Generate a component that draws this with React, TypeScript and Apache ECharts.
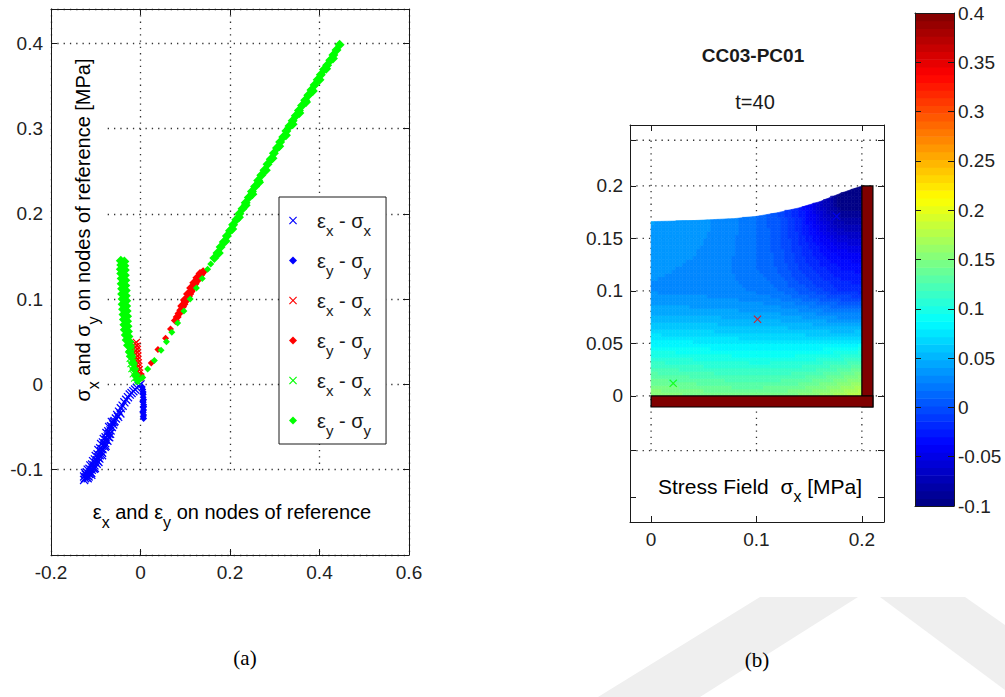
import React, { useEffect, useRef } from "react";
import * as echarts from "echarts";

const FONT = '"Liberation Sans", Arial, Helvetica, sans-serif';
const SERIF = '"Liberation Serif", "Times New Roman", serif';
const INK = "#1a1a1a";

// ---------------- (a) strain / stress scatter ----------------
const blueEpsXSigX: number[][] = [
  [0, 0], [-0.004, -0.002], [-0.008, -0.004], [-0.012, -0.006], [-0.016, -0.008], [-0.02, -0.01],
  [-0.024, -0.012], [-0.028, -0.015], [-0.032, -0.018], [-0.036, -0.021], [-0.04, -0.025],
  [-0.044, -0.028], [-0.048, -0.032], [-0.052, -0.036], [-0.055, -0.04], [-0.058, -0.043],
  [-0.061, -0.047], [-0.064, -0.05], [-0.067, -0.054], [-0.07, -0.058], [-0.073, -0.061],
  [-0.076, -0.065], [-0.079, -0.069], [-0.082, -0.072], [-0.085, -0.076], [-0.088, -0.079],
  [-0.091, -0.083], [-0.094, -0.086], [-0.097, -0.089], [-0.1, -0.092], [-0.103, -0.095],
  [-0.106, -0.098], [-0.109, -0.1], [-0.112, -0.103], [-0.115, -0.105], [-0.118, -0.107],
  [-0.121, -0.109], [-0.124, -0.11],
  [-0.045, -0.034], [-0.05, -0.038], [-0.06, -0.044], [-0.066, -0.049], [-0.072, -0.055],
  [-0.078, -0.062], [-0.084, -0.068], [-0.09, -0.075], [-0.096, -0.082], [-0.102, -0.088],
  [-0.108, -0.094], [-0.114, -0.099], [-0.12, -0.103], [-0.068, -0.058], [-0.074, -0.066],
  [-0.08, -0.073], [-0.086, -0.08], [-0.092, -0.087], [-0.098, -0.093], [-0.104, -0.099],
  [-0.11, -0.104], [-0.116, -0.108], [-0.122, -0.106], [-0.126, -0.108],
  [-0.064, -0.044], [-0.07, -0.05], [-0.076, -0.057], [-0.082, -0.064], [-0.088, -0.07],
  [-0.094, -0.077], [-0.1, -0.084], [-0.106, -0.09], [-0.112, -0.095], [-0.118, -0.1],
  [-0.124, -0.104], [-0.07, -0.062], [-0.078, -0.072], [-0.086, -0.083], [-0.094, -0.091],
  [-0.102, -0.098], [-0.11, -0.106], [-0.118, -0.11], [-0.126, -0.112],
];
const blueEpsYSigY: number[][] = [
  [0.004, -0.003], [0.005, -0.006], [0.006, -0.009], [0.006, -0.012], [0.006, -0.015],
  [0.007, -0.018], [0.006, -0.021], [0.007, -0.024], [0.006, -0.027], [0.007, -0.03],
  [0.006, -0.033], [0.007, -0.036], [0.006, -0.038], [0.007, -0.04], [0.005, -0.011],
  [0.005, -0.02], [0.007, -0.026], [0.005, -0.032],
];
const redEpsXSigX: number[][] = [
  [-0.012, 0.048], [-0.009, 0.049], [-0.012, 0.044], [-0.008, 0.045], [-0.011, 0.04],
  [-0.007, 0.041], [-0.011, 0.036], [-0.007, 0.037], [-0.01, 0.032], [-0.006, 0.033],
  [-0.01, 0.028], [-0.006, 0.029], [-0.009, 0.024], [-0.005, 0.025], [-0.008, 0.02],
  [-0.004, 0.021], [-0.007, 0.016], [-0.003, 0.017], [-0.005, 0.012], [-0.002, 0.013],
  [-0.003, 0.008], [0, 0.009],
];
const redEpsYSigYSparse: number[][] = [
  [0.002, 0.011], [0.024, 0.025], [0.039, 0.041], [0.056, 0.054], [0.067, 0.065],
];
const redEpsYSigYDense: number[][] = [
  [0.078, 0.075], [0.082, 0.079], [0.086, 0.083], [0.09, 0.087], [0.094, 0.091], [0.097, 0.094],
  [0.1, 0.097], [0.104, 0.1], [0.107, 0.103], [0.11, 0.106], [0.113, 0.109], [0.116, 0.112],
  [0.119, 0.115], [0.122, 0.118], [0.125, 0.121], [0.128, 0.123], [0.131, 0.126],
  [0.134, 0.128], [0.137, 0.13], [0.14, 0.132], [0.092, 0.092], [0.098, 0.099],
  [0.105, 0.106], [0.112, 0.113], [0.119, 0.119], [0.126, 0.125], [0.133, 0.13],
];
const greenEpsXSigX: number[][] = [
  [-0.026, 0.042], [-0.02, 0.044], [-0.025, 0.036], [-0.019, 0.038], [-0.024, 0.03],
  [-0.018, 0.032], [-0.022, 0.024], [-0.016, 0.026], [-0.02, 0.018], [-0.014, 0.02],
  [-0.017, 0.012], [-0.012, 0.014], [-0.014, 0.007], [-0.009, 0.008], [-0.007, 0.003],
  [-0.022, 0.047],
];
// green eps_y - sigma_y: near-vertical branch and the dense part of the rising branch
const greenEpsYSigYDense: number[][] = [
  [-0.044, 0.145], [-0.036, 0.144], [-0.043, 0.14], [-0.036, 0.139], [-0.044, 0.135],
  [-0.035, 0.134], [-0.043, 0.13], [-0.035, 0.128], [-0.042, 0.124], [-0.034, 0.122],
  [-0.042, 0.118], [-0.034, 0.116], [-0.041, 0.112], [-0.033, 0.11], [-0.041, 0.106],
  [-0.033, 0.104], [-0.04, 0.1], [-0.032, 0.098], [-0.04, 0.094], [-0.032, 0.092],
  [-0.039, 0.088], [-0.031, 0.086], [-0.038, 0.082], [-0.03, 0.08], [-0.037, 0.076],
  [-0.03, 0.074], [-0.036, 0.07], [-0.029, 0.068], [-0.035, 0.064], [-0.028, 0.062],
  [-0.033, 0.058], [-0.027, 0.056], [-0.031, 0.052], [-0.025, 0.05], [-0.028, 0.046],
  [-0.023, 0.044], [-0.024, 0.038], [-0.02, 0.032], [-0.017, 0.025], [-0.014, 0.018],
  [-0.01, 0.011], [-0.006, 0.005],
  [0.165, 0.148], [0.172, 0.154], [0.179, 0.161], [0.186, 0.167], [0.193, 0.174], [0.2, 0.18],
  [0.207, 0.187], [0.214, 0.193], [0.221, 0.2], [0.228, 0.206], [0.235, 0.213], [0.242, 0.219],
  [0.249, 0.226], [0.256, 0.232], [0.263, 0.239], [0.27, 0.245], [0.277, 0.251], [0.284, 0.258],
  [0.291, 0.264], [0.298, 0.271], [0.305, 0.277], [0.312, 0.284], [0.319, 0.29], [0.326, 0.297],
  [0.333, 0.303], [0.34, 0.309], [0.347, 0.315], [0.354, 0.321], [0.361, 0.327], [0.368, 0.333],
  [0.375, 0.339], [0.382, 0.345], [0.389, 0.351], [0.396, 0.357], [0.403, 0.363], [0.41, 0.369],
  [0.417, 0.374], [0.424, 0.38], [0.431, 0.386], [0.438, 0.392], [0.445, 0.398],
  [0.175, 0.154], [0.19, 0.168], [0.205, 0.182], [0.22, 0.196], [0.235, 0.21], [0.25, 0.223],
  [0.265, 0.237], [0.28, 0.251], [0.295, 0.265], [0.31, 0.279], [0.325, 0.292], [0.34, 0.305],
  [0.355, 0.318], [0.37, 0.331], [0.385, 0.344], [0.4, 0.357], [0.415, 0.37], [0.43, 0.382],
];
// green eps_y - sigma_y: sparse start of the rising branch
const greenEpsYSigYSparse: number[][] = [
  [0.005, 0.008], [0.016, 0.018], [0.031, 0.028], [0.046, 0.04], [0.058, 0.05], [0.07, 0.061],
  [0.083, 0.072], [0.097, 0.086], [0.111, 0.1], [0.125, 0.113], [0.138, 0.124], [0.15, 0.135],
  [0.157, 0.141],
];

const leftXRange = [-0.2, 0.6];
const leftXStep = 0.2;
const leftYRange = [-0.2, 0.44];
const leftYStep = 0.1;
const leftYLabels = [-0.1, 0, 0.1, 0.2, 0.3, 0.4];

// ---------------- (b) stress field ----------------
const fieldX = [0, 0.02, 0.04, 0.06, 0.08, 0.1, 0.12, 0.14, 0.16, 0.18, 0.2];
const fieldY = [0, 0.02, 0.04, 0.06, 0.08, 0.1, 0.12, 0.14, 0.16, 0.18, 0.2];
// sigma_x [MPa], one row per fieldY value, one column per fieldX value
const fieldValues: number[][] = [
  [0.16, 0.155, 0.15, 0.147, 0.145, 0.145, 0.147, 0.152, 0.16, 0.172, 0.185],
  [0.13, 0.127, 0.124, 0.121, 0.119, 0.118, 0.119, 0.122, 0.128, 0.138, 0.15],
  [0.1, 0.098, 0.096, 0.094, 0.093, 0.092, 0.092, 0.093, 0.096, 0.1, 0.108],
  [0.07, 0.069, 0.068, 0.066, 0.065, 0.064, 0.063, 0.062, 0.06, 0.058, 0.06],
  [0.046, 0.045, 0.044, 0.043, 0.042, 0.041, 0.039, 0.035, 0.029, 0.023, 0.022],
  [0.032, 0.031, 0.03, 0.029, 0.027, 0.024, 0.018, 0.008, -0.004, -0.014, -0.018],
  [0.034, 0.033, 0.031, 0.028, 0.024, 0.018, 0.009, -0.005, -0.018, -0.028, -0.032],
  [0.037, 0.036, 0.034, 0.03, 0.025, 0.017, 0.006, -0.012, -0.03, -0.045, -0.05],
  [0.04, 0.039, 0.036, 0.032, 0.026, 0.017, 0.004, -0.017, -0.045, -0.07, -0.075],
  [0.043, 0.041, 0.038, 0.033, 0.027, 0.017, 0.003, -0.022, -0.06, -0.095, -0.095],
  [0.045, 0.043, 0.04, 0.035, 0.028, 0.018, 0.004, -0.022, -0.062, -0.098, -0.1],
];
// upper free edge of the specimen, at each fieldX
const fieldTop = [0.166, 0.1665, 0.167, 0.168, 0.169, 0.171, 0.1745, 0.179, 0.185, 0.193, 0.2];
// supports: [x0, y0, x1, y1]
const supportBars: number[][] = [
  [0.2, -0.0105, 0.2105, 0.2],
  [0, -0.0105, 0.2105, 0],
];
const probeBlue: number[][] = [[0.176, 0.171]];
const probeRed: number[][] = [[0.101, 0.073]];
const probeGreen: number[][] = [[0.021, 0.012]];

const rightXRange = [-0.02, 0.221];
const rightYRange = [-0.12, 0.258];
const rightXTicks = [0, 0.1, 0.2];
const rightYTicks = [-0.096, -0.052, 0, 0.05, 0.1, 0.15, 0.2, 0.2435];
const rightYLabels = [0, 0.05, 0.1, 0.15, 0.2];
const rightYGrid = [-0.052, 0, 0.05, 0.1, 0.15, 0.2, 0.2435];

const cRange = [-0.1, 0.4];
const cStep = 0.05;
const cLevels = 64;

// MATLAB jet, 9 evenly spaced anchors
const JET = [
  [0, 0, 0.5], [0, 0, 1], [0, 0.5, 1], [0, 1, 1], [0.5, 1, 0.5],
  [1, 1, 0], [1, 0.5, 0], [1, 0, 0], [0.5, 0, 0],
];
function jet(v: number): string {
  let t = (v - cRange[0]) / (cRange[1] - cRange[0]);
  t = Math.max(0, Math.min(1, t));
  const q = (Math.min(cLevels - 1, Math.floor(t * cLevels)) + 0.5) / cLevels;
  const s = q * 8;
  const i = Math.min(7, Math.floor(s));
  const f = s - i;
  const a = JET[i], b = JET[i + 1];
  const c = [0, 1, 2].map((k) => Math.round((a[k] + (b[k] - a[k]) * f) * 255));
  return `rgb(${c[0]},${c[1]},${c[2]})`;
}

const XMARK = "path://M1,0L5,4L9,0L10,1L6,5L10,9L9,10L5,6L1,10L0,9L4,5L0,1Z";

const makeRich = (size: number, sub: number, pad: number) => ({
  g: { width: 15 },
  m: { fontFamily: FONT, fontSize: size, lineHeight: 22, color: INK },
  s: { fontFamily: FONT, fontSize: sub, lineHeight: 22, padding: [pad, 0, 0, 0], color: INK },
});
const legendRich = makeRich(20, 15, 20);
const labelRich = makeRich(20, 16, 20);
const labelRichR = makeRich(21, 16, 20);

const legendNames = ["bx", "by", "rx", "ry", "gx", "gy"];
const legendLabels: Record<string, string> = {
  bx: "{g| }{m|ε}{s|x}{m| - σ}{s|x}",
  by: "{g| }{m|ε}{s|y}{m| - σ}{s|y}",
  rx: "{g| }{m|ε}{s|x}{m| - σ}{s|x}",
  ry: "{g| }{m|ε}{s|y}{m| - σ}{s|y}",
  gx: "{g| }{m|ε}{s|x}{m| - σ}{s|x}",
  gy: "{g| }{m|ε}{s|y}{m| - σ}{s|y}",
};

const fmt = (v: number) => String(Math.round(v * 1000) / 1000);

function buildOption() {
  const fieldCells: number[][] = [];
  for (let j = 0; j < fieldY.length - 1; j++)
    for (let i = 0; i < fieldX.length - 1; i++) fieldCells.push([i, j]);

  const gridSegs: number[][] = [];
  rightXTicks.forEach((x) => gridSegs.push([x, rightYGrid[0], x, rightYGrid[rightYGrid.length - 1]]));
  rightYGrid.forEach((y) => gridSegs.push([rightXRange[0], y, rightXRange[1], y]));

  const SUB = 6;
  const renderField = (_p: any, api: any) => {
    const i = api.value(0), j = api.value(1);
    const xa = fieldX[i], xb = fieldX[i + 1], ya = fieldY[j], yb = fieldY[j + 1];
    const v00 = fieldValues[j][i], v10 = fieldValues[j][i + 1];
    const v01 = fieldValues[j + 1][i], v11 = fieldValues[j + 1][i + 1];
    const ta = fieldTop[i], tb = fieldTop[i + 1];
    const children: any[] = [];
    for (let sx = 0; sx < SUB; sx++) {
      const u0 = sx / SUB, u1 = (sx + 1) / SUB;
      const x0 = xa + (xb - xa) * u0, x1 = xa + (xb - xa) * u1;
      const t0 = ta + (tb - ta) * u0, t1 = ta + (tb - ta) * u1;
      for (let sy = 0; sy < SUB; sy++) {
        const w0 = sy / SUB, w1 = (sy + 1) / SUB;
        const y0 = ya + (yb - ya) * w0, y1 = ya + (yb - ya) * w1;
        if (y0 >= Math.max(t0, t1)) continue;
        const uc = (u0 + u1) / 2, wc = (w0 + w1) / 2;
        const v = v00 * (1 - uc) * (1 - wc) + v10 * uc * (1 - wc) + v01 * (1 - uc) * wc + v11 * uc * wc;
        const c = jet(v);
        const pts = [
          api.coord([x0, y0]),
          api.coord([x1, y0]),
          api.coord([x1, Math.max(y0, Math.min(y1, t1))]),
          api.coord([x0, Math.max(y0, Math.min(y1, t0))]),
        ];
        children.push({ type: "polygon", shape: { points: pts }, style: { fill: c, stroke: c, lineWidth: 0.6 }, silent: true });
      }
    }
    return { type: "group", children };
  };

  const renderColorbar = (_p: any, api: any) => {
    const children: any[] = [];
    const span = (cRange[1] - cRange[0]) / cLevels;
    for (let k = 0; k < cLevels; k++) {
      const v0 = cRange[0] + k * span, v1 = v0 + span;
      const p0 = api.coord([0, v1]), p1 = api.coord([1, v0]);
      children.push({
        type: "rect",
        shape: { x: p0[0], y: p0[1], width: p1[0] - p0[0], height: p1[1] - p0[1] + 0.6 },
        style: { fill: jet((v0 + v1) / 2) },
        silent: true,
      });
    }
    return { type: "group", children };
  };

  const axisBase = {
    axisLine: { show: true, onZero: false, lineStyle: { color: INK, width: 1 } },
    axisTick: { show: true, inside: true, length: 6, lineStyle: { color: INK } },
    axisLabel: { show: false },
    splitLine: { show: false },
  };
  const labelStyle = { fontFamily: FONT, fontSize: 19, color: "#222" };
  const dotted = { color: "#333", width: 1.3, type: [1.3, 5] as any };

  const scatter = (name: string, data: number[][], color: string, cross: boolean, size: number) => ({
    type: "scatter",
    name,
    xAxisIndex: 0,
    yAxisIndex: 0,
    data,
    symbol: cross ? XMARK : "diamond",
    symbolSize: size,
    itemStyle: { color, opacity: 1 },
    silent: true,
    z: 2,
  });

  const centered = { align: "center", verticalAlign: "middle", textAlign: "center", textVerticalAlign: "middle" };

  return {
    animation: false,
    backgroundColor: "#fff",
    grid: [
      { left: 51, top: 9, width: 358, height: 546, outerBoundsMode: "none" },
      { left: 630, top: 125, width: 254, height: 397, outerBoundsMode: "none" },
      { left: 915, top: 13, width: 39, height: 493, outerBoundsMode: "none" },
    ],
    xAxis: [
      {
        ...axisBase, gridIndex: 0, type: "value", position: "bottom",
        min: leftXRange[0], max: leftXRange[1], interval: leftXStep,
        axisLabel: { show: true, margin: 8, ...labelStyle, formatter: fmt },
        splitLine: { show: true, lineStyle: dotted },
      },
      { ...axisBase, gridIndex: 0, type: "value", position: "top", min: leftXRange[0], max: leftXRange[1], interval: leftXStep },
      {
        ...axisBase, gridIndex: 1, type: "value", position: "bottom",
        min: rightXRange[0], max: rightXRange[1],
        axisTick: { ...axisBase.axisTick, customValues: rightXTicks },
        axisLabel: { show: true, margin: 8, ...labelStyle, customValues: rightXTicks, formatter: fmt },
      },
      {
        ...axisBase, gridIndex: 1, type: "value", position: "top",
        min: rightXRange[0], max: rightXRange[1],
        axisTick: { ...axisBase.axisTick, customValues: rightXTicks },
      },
      { ...axisBase, gridIndex: 2, type: "value", position: "bottom", min: 0, max: 1, axisTick: { show: false }, z: 10 },
      { ...axisBase, gridIndex: 2, type: "value", position: "top", min: 0, max: 1, axisTick: { show: false }, z: 10 },
    ],
    yAxis: [
      {
        ...axisBase, gridIndex: 0, type: "value", position: "left",
        min: leftYRange[0], max: leftYRange[1], interval: leftYStep,
        axisLabel: {
          show: true, margin: 8, ...labelStyle,
          formatter: (v: number) => (leftYLabels.some((l) => Math.abs(l - v) < 1e-6) ? fmt(v) : ""),
        },
        splitLine: { show: true, lineStyle: dotted },
      },
      { ...axisBase, gridIndex: 0, type: "value", position: "right", min: leftYRange[0], max: leftYRange[1], interval: leftYStep },
      {
        ...axisBase, gridIndex: 1, type: "value", position: "left",
        min: rightYRange[0], max: rightYRange[1],
        axisTick: { ...axisBase.axisTick, customValues: rightYTicks },
        axisLabel: { show: true, margin: 7, ...labelStyle, customValues: rightYLabels, formatter: fmt },
      },
      {
        ...axisBase, gridIndex: 1, type: "value", position: "right",
        min: rightYRange[0], max: rightYRange[1],
        axisTick: { ...axisBase.axisTick, customValues: rightYTicks },
      },
      {
        ...axisBase, gridIndex: 2, type: "value", position: "left",
        min: cRange[0], max: cRange[1], interval: cStep, z: 10,
      },
      {
        ...axisBase, gridIndex: 2, type: "value", position: "right",
        min: cRange[0], max: cRange[1], interval: cStep, z: 10,
        axisLabel: { show: true, margin: 4, ...labelStyle, formatter: fmt },
      },
    ],
    legend: {
      data: legendNames,
      orient: "vertical",
      left: 279,
      top: 197,
      padding: [6, 15, 6, 10],
      itemGap: 5,
      itemWidth: 8,
      itemHeight: 8,
      backgroundColor: "#fff",
      borderColor: INK,
      borderWidth: 1,
      borderRadius: 0,
      selectedMode: false,
      formatter: (name: string) => legendLabels[name],
      textStyle: { fontFamily: FONT, fontSize: 20, color: INK, rich: legendRich },
    },
    series: [
      scatter("bx", blueEpsXSigX, "#0000ff", true, 9),
      scatter("by", blueEpsYSigY, "#0000ff", false, 7),
      scatter("rx", redEpsXSigX, "#ff0000", true, 8),
      scatter("ry", redEpsYSigYSparse, "#ff0000", false, 7),
      scatter("ry", redEpsYSigYDense, "#ff0000", false, 9),
      scatter("gx", greenEpsXSigX, "#00ff00", true, 7),
      scatter("gy", greenEpsYSigYSparse, "#00ff00", false, 7),
      scatter("gy", greenEpsYSigYDense, "#00ff00", false, 10),
      {
        type: "custom", xAxisIndex: 2, yAxisIndex: 2, z: 1, silent: true, data: gridSegs,
        renderItem: (_p: any, api: any) => {
          const a = api.coord([api.value(0), api.value(1)]);
          const b = api.coord([api.value(2), api.value(3)]);
          return {
            type: "line",
            shape: { x1: a[0], y1: a[1], x2: b[0], y2: b[1] },
            style: { stroke: "#333", lineWidth: 1.3, lineDash: [1.3, 5] },
            silent: true,
          };
        },
      },
      {
        type: "custom", xAxisIndex: 2, yAxisIndex: 2, z: 2, silent: true,
        data: fieldCells, renderItem: renderField,
      },
      {
        type: "custom", xAxisIndex: 2, yAxisIndex: 2, z: 3, silent: true, data: supportBars,
        renderItem: (_p: any, api: any) => {
          const a = api.coord([api.value(0), api.value(3)]);
          const b = api.coord([api.value(2), api.value(1)]);
          return {
            type: "rect",
            shape: { x: a[0], y: a[1], width: b[0] - a[0], height: b[1] - a[1] },
            style: { fill: "#7f0000", stroke: "#000", lineWidth: 1.2 },
            silent: true,
          };
        },
      },
      { type: "scatter", xAxisIndex: 2, yAxisIndex: 2, z: 4, silent: true, data: probeBlue, symbol: XMARK, symbolSize: 8, itemStyle: { color: "#0000ff" } },
      { type: "scatter", xAxisIndex: 2, yAxisIndex: 2, z: 4, silent: true, data: probeRed, symbol: XMARK, symbolSize: 8, itemStyle: { color: "#ff0000" } },
      { type: "scatter", xAxisIndex: 2, yAxisIndex: 2, z: 4, silent: true, data: probeGreen, symbol: XMARK, symbolSize: 8, itemStyle: { color: "#00ff00" } },
      {
        type: "custom", xAxisIndex: 4, yAxisIndex: 4, z: 2, silent: true, data: [[0, 0]],
        renderItem: renderColorbar,
      },
    ],
    graphic: [
      { type: "polygon", z: 0, silent: true, shape: { points: [[598, 697], [700, 697], [858, 597], [760, 597]] }, style: { fill: "#efefef" } },
      { type: "polygon", z: 0, silent: true, shape: { points: [[880, 597], [965, 597], [1005, 625], [1005, 690]] }, style: { fill: "#efefef" } },
      // label backgrounds inside the axes (MATLAB puts the labels inside)
      { type: "rect", z: 1, silent: true, shape: { x: 52, y: 53, width: 51, height: 354 }, style: { fill: "#fff" } },
      { type: "rect", z: 1, silent: true, shape: { x: 52, y: 472, width: 356, height: 75 }, style: { fill: "#fff" } },
      { type: "rect", z: 1, silent: true, shape: { x: 637, y: 452, width: 240, height: 63 }, style: { fill: "#fff" } },
      {
        type: "text", z: 5, silent: true, x: 83, y: 230, rotation: Math.PI / 2,
        style: { text: "{m|σ}{s|x}{m| and σ}{s|y}{m| on nodes of reference [MPa]}", rich: labelRich, ...centered },
      },
      {
        type: "text", z: 5, silent: true, x: 232, y: 512,
        style: { text: "{m|ε}{s|x}{m| and ε}{s|y}{m| on nodes of reference}", rich: labelRich, ...centered },
      },
      {
        type: "text", z: 5, silent: true, x: 760, y: 486,
        style: { text: "{m|Stress Field  σ}{s|x}{m| [MPa]}", rich: labelRichR, ...centered },
      },
      {
        type: "text", z: 5, silent: true, x: 753, y: 55,
        style: { text: "CC03-PC01", fontFamily: FONT, fontSize: 19, fontWeight: "bold", fill: INK, ...centered },
      },
      {
        type: "text", z: 5, silent: true, x: 755, y: 102,
        style: { text: "t=40", fontFamily: FONT, fontSize: 20, fill: INK, ...centered },
      },
      {
        type: "text", z: 5, silent: true, x: 245, y: 658,
        style: { text: "(a)", fontFamily: SERIF, fontSize: 21, fill: "#000", ...centered },
      },
      {
        type: "text", z: 5, silent: true, x: 757, y: 660,
        style: { text: "(b)", fontFamily: SERIF, fontSize: 21, fill: "#000", ...centered },
      },
    ],
  };
}

export default function App() {
  const ref = useRef<HTMLDivElement>(null);
  useEffect(() => {
    if (!ref.current) return;
    const chart = echarts.init(ref.current, undefined, { renderer: "svg" });
    chart.setOption(buildOption() as any);
    return () => chart.dispose();
  }, []);
  return (
    <div
      ref={ref}
      style={{ position: "fixed", left: 0, top: 0, width: 1005, height: 697, background: "#fff" }}
    />
  );
}
